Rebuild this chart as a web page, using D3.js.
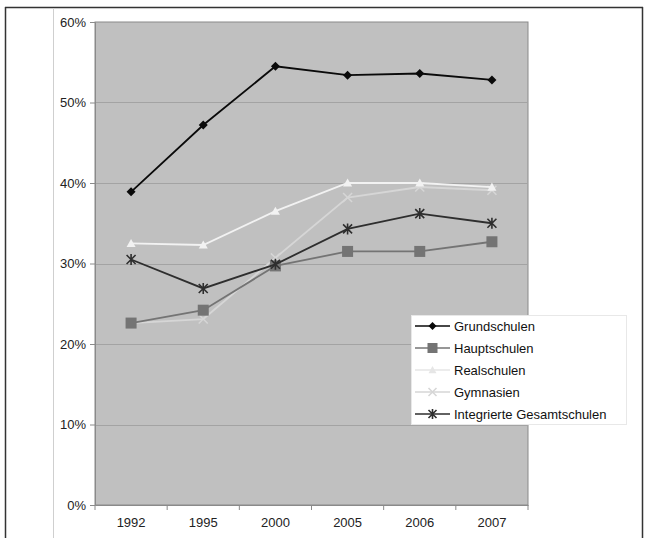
<!DOCTYPE html>
<html>
<head>
<meta charset="utf-8">
<script src="https://cdn.jsdelivr.net/npm/d3@7"></script>
<style>
  html, body { margin: 0; padding: 0; background: #fff; }
  svg { display: block; font-family: "Liberation Sans", Arial, sans-serif; }
</style>
</head>
<body>
<svg id="chart" width="648" height="538"></svg>
<script>
// Anteil je Schulform, 1992–2007
const years = ["1992", "1995", "2000", "2005", "2006", "2007"];
const grundschulen = [0.389, 0.472, 0.545, 0.534, 0.536, 0.528];
const hauptschulen = [0.226, 0.242, 0.297, 0.315, 0.315, 0.327];
const realschulen = [0.325, 0.323, 0.365, 0.400, 0.400, 0.395];
const gymnasien = [0.226, 0.231, 0.307, 0.382, 0.395, 0.391];
const gesamtschulen = [0.305, 0.269, 0.299, 0.343, 0.362, 0.350];
const yTicks = [0, 0.1, 0.2, 0.3, 0.4, 0.5, 0.6];

const series = [
  { name: "Grundschulen", values: grundschulen, color: "#0a0a0a", marker: "diamond" },
  { name: "Hauptschulen", values: hauptschulen, color: "#747474", marker: "square" },
  { name: "Realschulen", values: realschulen, color: "#f2f2f2", marker: "triangle" },
  { name: "Gymnasien", values: gymnasien, color: "#d6d6d6", marker: "x" },
  { name: "Integrierte Gesamtschulen", values: gesamtschulen, color: "#2e2e2e", marker: "star" }
];

const svg = d3.select("#chart");

// outer frame
svg.append("line").attr("x1", 5).attr("x2", 643).attr("y1", 7.5).attr("y2", 7.5)
  .attr("stroke", "#333").attr("stroke-width", 1.5);
svg.append("line").attr("x1", 5.5).attr("x2", 5.5).attr("y1", 7).attr("y2", 538)
  .attr("stroke", "#333").attr("stroke-width", 1.5);
svg.append("line").attr("x1", 642.5).attr("x2", 642.5).attr("y1", 7).attr("y2", 538)
  .attr("stroke", "#333").attr("stroke-width", 1.5);
svg.append("line").attr("x1", 53.5).attr("x2", 53.5).attr("y1", 8).attr("y2", 538)
  .attr("stroke", "#cfcfcf").attr("stroke-width", 1);

const plot = { left: 95, right: 528, top: 22, bottom: 505 };

const x = d3.scaleBand().domain(years).range([plot.left, plot.right]);
const y = d3.scaleLinear().domain([0, 0.6]).range([plot.bottom, plot.top]);

// plot area
svg.append("rect")
  .attr("x", plot.left).attr("y", plot.top)
  .attr("width", plot.right - plot.left).attr("height", plot.bottom - plot.top)
  .attr("fill", "#c0c0c0").attr("stroke", "#8a8a8a").attr("stroke-width", 1);

// gridlines
svg.append("g").selectAll("line").data(yTicks.slice(1, -1)).join("line")
  .attr("x1", plot.left).attr("x2", plot.right)
  .attr("y1", d => Math.round(y(d)) + 0.5).attr("y2", d => Math.round(y(d)) + 0.5)
  .attr("stroke", "#a3a3a3").attr("stroke-width", 1);

// y axis
const yAxis = d3.axisLeft(y).tickValues(yTicks).tickFormat(d3.format(".0%")).tickSize(5).tickPadding(4);
const gy = svg.append("g").attr("transform", `translate(${plot.left},0)`).call(yAxis);
gy.select(".domain").attr("stroke", "#8a8a8a");
gy.selectAll(".tick line").attr("stroke", "#8a8a8a");
gy.selectAll(".tick text").attr("font-size", 13).attr("fill", "#222")
  .attr("font-family", "Liberation Sans, Arial, sans-serif");

// x axis: ticks at category boundaries, labels centred in bands
const xAxis = d3.axisBottom(x).tickSize(0).tickPadding(13);
const gx = svg.append("g").attr("transform", `translate(0,${plot.bottom})`).call(xAxis);
gx.select(".domain").attr("stroke", "#8a8a8a");
gx.selectAll(".tick text").attr("font-size", 13).attr("fill", "#222")
  .attr("font-family", "Liberation Sans, Arial, sans-serif");
gx.selectAll("line.bound").data(d3.range(years.length + 1)).join("line")
  .attr("class", "bound")
  .attr("x1", i => plot.left + i * x.step()).attr("x2", i => plot.left + i * x.step())
  .attr("y1", 0).attr("y2", 5)
  .attr("stroke", "#8a8a8a");

// markers
function drawMarker(g, type, color, size) {
  const s = size;
  if (type === "diamond") {
    g.append("path").attr("d", `M0,${-s}L${s},0L0,${s}L${-s},0Z`).attr("fill", color);
  } else if (type === "square") {
    g.append("rect").attr("x", -s).attr("y", -s).attr("width", 2 * s).attr("height", 2 * s)
      .attr("fill", color);
  } else if (type === "triangle") {
    g.append("path").attr("d", `M0,${-s}L${s},${s * 0.8}L${-s},${s * 0.8}Z`).attr("fill", color);
  } else if (type === "x") {
    g.append("path").attr("d", `M${-s},${-s}L${s},${s}M${-s},${s}L${s},${-s}`)
      .attr("stroke", color).attr("stroke-width", 1.5).attr("fill", "none");
  } else if (type === "star") {
    g.append("path").attr("d", `M${-s},${-s}L${s},${s}M${-s},${s}L${s},${-s}M0,${-s - 1}L0,${s + 1}`)
      .attr("stroke", color).attr("stroke-width", 1.6).attr("fill", "none");
  }
}

const line = d3.line().x((d, i) => x(years[i]) + x.bandwidth() / 2).y(d => y(d));

// draw lighter series first so darker ones sit on top
const order = [3, 2, 1, 4, 0];
order.forEach(k => {
  const s = series[k];
  svg.append("path").datum(s.values).attr("d", line)
    .attr("fill", "none").attr("stroke", s.color).attr("stroke-width", 1.8);
  s.values.forEach((v, i) => {
    const g = svg.append("g")
      .attr("transform", `translate(${x(years[i]) + x.bandwidth() / 2},${y(v)})`);
    drawMarker(g, s.marker, s.color, s.marker === "square" ? 5.5 : 4.5);
  });
});

// legend
const lg = svg.append("g").attr("transform", "translate(411,315)");
lg.append("rect").attr("x", 0.5).attr("y", 0.5).attr("width", 215).attr("height", 109)
  .attr("fill", "#fff").attr("stroke", "#e8e8e8");
series.forEach((s, i) => {
  const cy = 11 + i * 22;
  const row = lg.append("g").attr("transform", `translate(0,${cy})`);
  row.append("line").attr("x1", 4).attr("x2", 39).attr("y1", 0).attr("y2", 0)
    .attr("stroke", s.color === "#f2f2f2" ? "#e6e6e6" : s.color).attr("stroke-width", 1.6);
  const m = row.append("g").attr("transform", "translate(21.5,0)");
  drawMarker(m, s.marker, s.color === "#f2f2f2" ? "#e6e6e6" : s.color, s.marker === "square" ? 5 : 4);
  row.append("text").attr("x", 43).attr("y", 4.5).attr("font-size", 13).attr("fill", "#111")
    .attr("font-family", "Liberation Sans, Arial, sans-serif").text(s.name);
});
</script>
</body>
</html>
